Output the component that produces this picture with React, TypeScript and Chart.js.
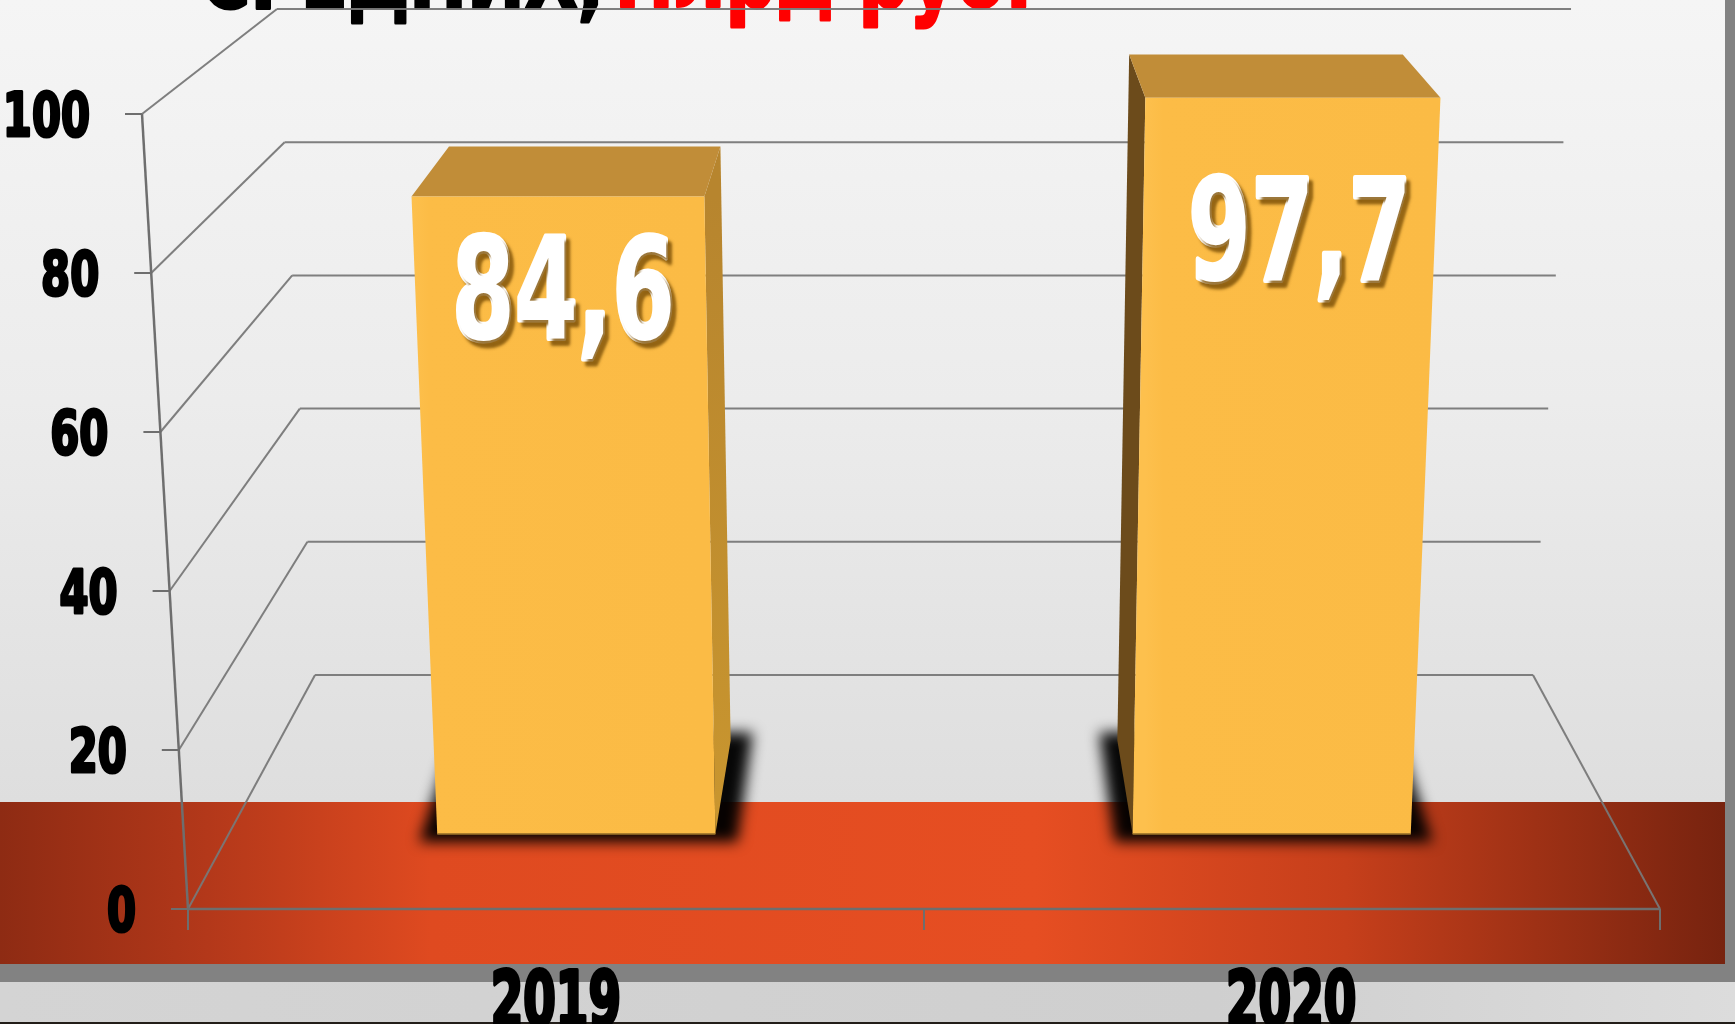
import React, { useEffect, useRef } from "react";
import { Chart, registerables } from "chart.js";

Chart.register(...registerables);

// ---------- data ----------
const categories = ["2019", "2020"];
const values = [84.6, 97.7];
const yTickValues = [0, 20, 40, 60, 80, 100];
const titleBlack = "СРЕДНИХ,";
const titleRed = "млрд руб.";

// label vertical offsets (baseline below bar top), style only
const valueLabelBaselineDy = [143, 182];

// ---------- styles ----------
const FAMILY = '"Liberation Sans Narrow", "DejaVu Sans Condensed", "Liberation Sans", sans-serif';
const GRID = "rgba(120,120,120,0.95)";
const FRONT = "#FCBC46";
const TOP = "#C18D38";
const SIDE_LEFT = "#6C4B1B";

// 3D projection parameters
const LEAN = 0.0625;
const SX_BACK = 0.8274;
const SY_BACK = 0.8377;
const VP_Y = -533;
const BAR_Z0 = 0.32;
const BAR_Z1 = 0.72;

type Pt = { x: number; y: number };

function proj(a: any, px: number, py: number, z: number): Pt {
  const cx = (a.left + a.right) / 2;
  const w = (a.bottom - py) / (a.bottom - a.top);
  const fx = cx + (px - cx) * (1 + LEAN * w);
  const sx = 1 - (1 - SX_BACK) * z;
  const sy = 1 - (1 - SY_BACK) * z;
  return { x: cx + (fx - cx) * sx, y: VP_Y + (py - VP_Y) * sy };
}

function fontForHeight(ctx: CanvasRenderingContext2D, h: number) {
  ctx.font = `bold 100px ${FAMILY}`;
  const asc = ctx.measureText("0").actualBoundingBoxAscent || 72;
  const size = (100 * h) / asc;
  return `bold ${size}px ${FAMILY}`;
}

function inkWidth(ctx: CanvasRenderingContext2D, text: string) {
  const m = ctx.measureText(text);
  return m.actualBoundingBoxLeft + m.actualBoundingBoxRight;
}

function drawText(
  ctx: CanvasRenderingContext2D,
  text: string,
  x: number,
  baseline: number,
  font: string,
  sx: number,
  align: "left" | "right" | "center",
  color: string,
  stroke = 0
) {
  ctx.save();
  ctx.font = font;
  ctx.textAlign = "left";
  ctx.textBaseline = "alphabetic";
  const m = ctx.measureText(text);
  const l = m.actualBoundingBoxLeft;
  const r = m.actualBoundingBoxRight;
  let dx = 0;
  if (align === "left") dx = l;
  else if (align === "right") dx = -r;
  else dx = -(r - l) / 2;
  ctx.translate(x, baseline);
  ctx.scale(sx, 1);
  ctx.fillStyle = color;
  if (stroke > 0) {
    ctx.strokeStyle = color;
    ctx.lineWidth = stroke;
    ctx.lineJoin = "round";
    ctx.strokeText(text, dx, 0);
  }
  ctx.fillText(text, dx, 0);
  ctx.restore();
}

function poly(ctx: CanvasRenderingContext2D, pts: Pt[], fill: string | CanvasGradient) {
  ctx.beginPath();
  ctx.moveTo(pts[0].x, pts[0].y);
  for (let i = 1; i < pts.length; i++) ctx.lineTo(pts[i].x, pts[i].y);
  ctx.closePath();
  ctx.fillStyle = fill;
  ctx.fill();
}

function line(ctx: CanvasRenderingContext2D, p: Pt, q: Pt) {
  ctx.beginPath();
  ctx.moveTo(p.x, p.y);
  ctx.lineTo(q.x, q.y);
  ctx.stroke();
}

const backgroundPlugin = {
  id: "slideBackground",
  beforeDraw(chart: any) {
    const { ctx, width, height } = chart;
    ctx.save();
    const g = ctx.createLinearGradient(0, 0, 0, 802);
    g.addColorStop(0, "#f5f5f5");
    g.addColorStop(0.5, "#ececec");
    g.addColorStop(1, "#dedede");
    ctx.fillStyle = g;
    ctx.fillRect(0, 0, width, height);
    const g3 = ctx.createLinearGradient(0, 0, width, 0);
    g3.addColorStop(0, "#d4d4d4");
    g3.addColorStop(0.7, "#cfcfcf");
    g3.addColorStop(1, "#dcdcdc");
    ctx.fillStyle = g3;
    ctx.fillRect(0, 982, width, 40);
    const g2 = ctx.createLinearGradient(0, 0, 1725, 0);
    g2.addColorStop(0, "#8e2b13");
    g2.addColorStop(0.12, "#b3381a");
    g2.addColorStop(0.25, "#df4a20");
    g2.addColorStop(0.6, "#e64e22");
    g2.addColorStop(0.78, "#c63f1b");
    g2.addColorStop(1, "#77230f");
    ctx.fillStyle = g2;
    ctx.fillRect(0, 802, 1725, 162);
    ctx.fillStyle = "#828282";
    ctx.fillRect(0, 964, width, 18);
    ctx.fillRect(1725, 0, width - 1725, 982);
    ctx.fillStyle = "#221d18";
    ctx.fillRect(0, 1022, width, 2);
    const tf = fontForHeight(ctx, 72);
    ctx.font = tf;
    const sxB = 394 / inkWidth(ctx, titleBlack);
    const sxR = 404 / inkWidth(ctx, titleRed);
    drawText(ctx, titleBlack, 203, 8, tf, sxB, "left", "#000000", 3);
    drawText(ctx, titleRed, 621, 7, tf, sxR, "left", "#ff0000", 3);
    ctx.restore();
  },
};

const gridPlugin = {
  id: "grid3d",
  beforeDatasetsDraw(chart: any) {
    const { ctx, chartArea: a, scales } = chart;
    const ys = scales.y;
    ctx.save();
    ctx.strokeStyle = GRID;
    ctx.lineWidth = 2;
    const base = ys.getPixelForValue(0);
    for (const v of yTickValues) {
      const py = ys.getPixelForValue(v);
      const f = proj(a, a.left, py, 0);
      const bl = proj(a, a.left, py, 1);
      const br = proj(a, a.right, py, 1);
      line(ctx, f, bl);
      line(ctx, bl, br);
    }
    line(ctx, proj(a, a.right, base, 0), proj(a, a.right, base, 1));
    ctx.strokeStyle = "rgba(110,110,110,1)";
    ctx.lineWidth = 2.5;
    const topPy = ys.getPixelForValue(yTickValues[yTickValues.length - 1]);
    line(ctx, proj(a, a.left, topPy, 0), proj(a, a.left, base, 0));
    line(ctx, proj(a, a.left, base, 0), proj(a, a.right, base, 0));
    ctx.lineWidth = 2;
    for (const v of yTickValues) {
      const f = proj(a, a.left, ys.getPixelForValue(v), 0);
      line(ctx, f, { x: f.x - 17, y: f.y });
    }
    const n = categories.length;
    for (let i = 0; i <= n; i++) {
      const px = a.left + (i * (a.right - a.left)) / n;
      const p = proj(a, px, base, 0);
      line(ctx, p, { x: p.x, y: p.y + 21 });
    }
    const yf = fontForHeight(ctx, 45);
    ctx.font = yf;
    const ysx = 53 / inkWidth(ctx, "20");
    for (const v of yTickValues) {
      const f = proj(a, a.left, ys.getPixelForValue(v), 0);
      drawText(ctx, String(v), f.x - 54, f.y + 22, yf, ysx, "right", "#000000", 3);
    }
    ctx.restore();
  },
};

const barsPlugin = {
  id: "bars3d",
  afterDatasetsDraw(chart: any) {
    const { ctx, chartArea: a, scales } = chart;
    const meta = chart.getDatasetMeta(0);
    const bars = meta.data.map((el: any) => {
      const p = el.getProps(["x", "y", "base", "width"], true);
      const l = p.x - p.width / 2;
      const r = p.x + p.width / 2;
      return {
        FLB: proj(a, l, p.base, BAR_Z0),
        FRB: proj(a, r, p.base, BAR_Z0),
        FLT: proj(a, l, p.y, BAR_Z0),
        FRT: proj(a, r, p.y, BAR_Z0),
        BLT: proj(a, l, p.y, BAR_Z1),
        BRT: proj(a, r, p.y, BAR_Z1),
        BLB: proj(a, l, p.base, BAR_Z1),
        BRB: proj(a, r, p.base, BAR_Z1),
      };
    });
    ctx.save();
    // soft shadows under the bar footprints
    ctx.filter = "blur(7px)";
    for (const b of bars) {
      poly(
        ctx,
        [
          { x: b.BLB.x - 18, y: b.BLB.y - 8 },
          { x: b.BRB.x + 22, y: b.BRB.y - 8 },
          { x: b.FRB.x + 22, y: b.FRB.y + 8 },
          { x: b.FLB.x - 18, y: b.FLB.y + 8 },
        ],
        "rgba(0,0,0,0.97)"
      );
    }
    ctx.filter = "none";
    for (const b of bars) {
      if (b.BRT.x > b.FRT.x) {
        const gs = ctx.createLinearGradient(0, b.FRT.y, 0, b.FRB.y);
        gs.addColorStop(0, "#B7852E");
        gs.addColorStop(1, "#C9962F");
        poly(ctx, [b.FRB, b.FRT, b.BRT, b.BRB], gs);
      }
      if (b.BLT.x < b.FLT.x) {
        poly(ctx, [b.FLB, b.FLT, b.BLT, b.BLB], SIDE_LEFT);
      }
      poly(ctx, [b.FLT, b.FRT, b.BRT, b.BLT], TOP);
      const gf = ctx.createLinearGradient(b.FLT.x, 0, b.FRT.x, 0);
      gf.addColorStop(0, "#FDC04D");
      gf.addColorStop(0.06, FRONT);
      gf.addColorStop(1, "#FBBB45");
      poly(ctx, [b.FLB, b.FLT, b.FRT, b.FRB], gf);
      ctx.strokeStyle = "rgba(150,110,40,0.8)";
      ctx.lineWidth = 2;
      line(ctx, b.FLB, b.FRB);
    }
    const vf = fontForHeight(ctx, 106);
    ctx.font = vf;
    const vsx = 215 / inkWidth(ctx, "00,0");
    bars.forEach((b: any, i: number) => {
      const txt = values[i].toFixed(1).replace(".", ",");
      ctx.save();
      ctx.shadowColor = "rgba(130,85,10,0.8)";
      ctx.shadowOffsetX = 4;
      ctx.shadowOffsetY = 5;
      ctx.shadowBlur = 3;
      drawText(ctx, txt, (b.FLT.x + b.FRT.x) / 2 + 6, b.FLT.y + valueLabelBaselineDy[i], vf, vsx, "center", "#ffffff", 5);
      ctx.restore();
    });
    const cf = fontForHeight(ctx, 58);
    ctx.font = cf;
    const csx = 124 / inkWidth(ctx, "2019");
    const xs = scales.x;
    const basePy = scales.y.getPixelForValue(0);
    categories.forEach((c, i) => {
      const p = proj(a, xs.getPixelForValue(i), basePy, 0);
      drawText(ctx, c, p.x, 1026, cf, csx, "center", "#000000", 4);
    });
    ctx.restore();
  },
};

export default function App() {
  const ref = useRef<HTMLCanvasElement>(null);
  useEffect(() => {
    document.body.style.margin = "0";
    document.body.style.overflow = "hidden";
    const canvas = ref.current!;
    const chart = new Chart(canvas, {
      type: "bar",
      data: {
        labels: categories,
        datasets: [
          {
            data: values,
            backgroundColor: "rgba(0,0,0,0)",
            borderWidth: 0,
            barPercentage: 0.4,
            categoryPercentage: 1,
          },
        ],
      },
      options: {
        responsive: false,
        animation: false,
        devicePixelRatio: 1,
        events: [],
        layout: { padding: { left: 188, right: 75, top: 114, bottom: 115 } },
        plugins: {
          legend: { display: false },
          tooltip: { enabled: false },
        },
        scales: {
          x: { display: false },
          y: { display: false, min: 0, max: 100, ticks: { stepSize: 20 } },
        },
      },
      plugins: [backgroundPlugin, gridPlugin, barsPlugin],
    } as any);
    return () => chart.destroy();
  }, []);
  return <canvas ref={ref} width={1735} height={1024} style={{ display: "block" }} />;
}
